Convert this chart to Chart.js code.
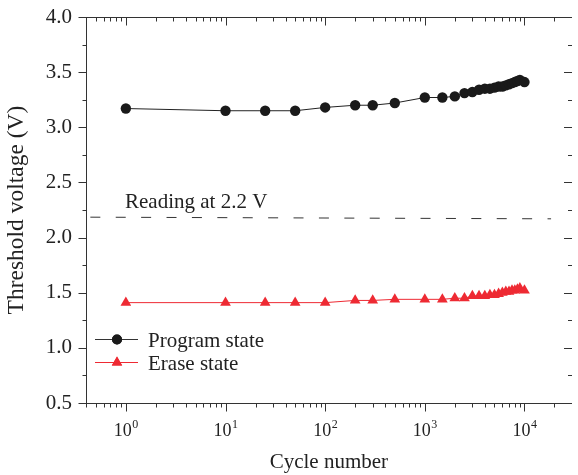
<!DOCTYPE html>
<html>
<head>
<meta charset="utf-8">
<script src="https://cdn.jsdelivr.net/npm/chart.js@4/dist/chart.umd.min.js"></script>
<style>
  html, body { margin: 0; padding: 0; background: #fff; }
  #wrap { width: 578px; height: 475px; }
</style>
</head>
<body>
<div id="wrap"><canvas id="c" width="578" height="475"></canvas></div>
<script>
// ---- data ----
const cycles = [1, 10, 25, 50, 100, 200, 300, 500, 1000, 1500, 2000, 2500, 3000, 3500, 4000, 4500, 5000, 5500, 6000, 6500, 7000, 7500, 8000, 8500, 9000, 10000];
const programV = [3.17, 3.15, 3.15, 3.15, 3.18, 3.20, 3.20, 3.22, 3.27, 3.27, 3.28, 3.31, 3.32, 3.34, 3.35, 3.35, 3.36, 3.37, 3.37, 3.38, 3.39, 3.40, 3.41, 3.42, 3.43, 3.41];
const eraseV   = [1.41, 1.41, 1.41, 1.41, 1.41, 1.43, 1.43, 1.44, 1.44, 1.44, 1.45, 1.45, 1.47, 1.47, 1.47, 1.48, 1.48, 1.49, 1.50, 1.51, 1.51, 1.52, 1.52, 1.53, 1.54, 1.52];
const readingX = [0.44, 18500];
const readingV = [2.185, 2.17];
const yTickValues = [0.5, 1.0, 1.5, 2.0, 2.5, 3.0, 3.5, 4.0];
const xDecades = [0, 1, 2, 3, 4];
const seriesNames = ['Program state', 'Erase state'];
const readingLabel = 'Reading at 2.2 V';
const xTitle = 'Cycle number';
const yTitle = 'Threshold voltage (V)';

const FONT = '"Liberation Serif", "Times New Roman", Times, serif';
const INK = '#222';
const RED = '#ee2a33';

const toXY = (xs, ys) => xs.map((v, i) => ({ x: v, y: ys[i] }));

const decoPlugin = {
  id: 'deco',
  afterDraw(chart) {
    const { ctx, chartArea: { left, right, top, bottom }, scales: { x, y } } = chart;
    ctx.save();
    ctx.strokeStyle = '#333';
    ctx.lineWidth = 1;
    const seg = (x1, y1, x2, y2) => { ctx.beginPath(); ctx.moveTo(x1, y1); ctx.lineTo(x2, y2); ctx.stroke(); };
    const T = Math.round(top) + 0.5;
    const B = Math.round(bottom) + 0.5;
    const L = Math.round(left) + 0.5;
    const R = Math.round(right);
    // top frame line
    seg(left, T, right, T);
    // x ticks (bottom outward, top inward)
    for (let d = -1; d <= 4; d++) {
      for (let m = 1; m <= 9; m++) {
        const v = m * Math.pow(10, d);
        if (v < x.min || v > x.max) continue;
        const px = Math.round(x.getPixelForValue(v)) + 0.5;
        const len = m === 1 ? 8 : 4;
        seg(px, B, px, B + len);
        seg(px, T, px, T + len);
      }
    }
    // y ticks (left outward, right inward)
    for (let v = 0.5; v <= 4.0001; v += 0.25) {
      const py = Math.round(y.getPixelForValue(v)) + 0.5;
      const major = Math.abs(v * 2 - Math.round(v * 2)) < 1e-6;
      const len = major ? 8 : 4;
      seg(L, py, L - len, py);
      seg(R, py, R - len, py);
    }
    // x tick labels 10^n
    ctx.fillStyle = INK;
    ctx.textBaseline = 'alphabetic';
    xDecades.forEach(n => {
      const px = x.getPixelForValue(Math.pow(10, n));
      ctx.font = '18px ' + FONT;
      const wBase = ctx.measureText('10').width;
      ctx.font = '12px ' + FONT;
      const wExp = ctx.measureText(String(n)).width;
      const x0 = px - (wBase + wExp) / 2;
      ctx.font = '18px ' + FONT;
      ctx.textAlign = 'left';
      ctx.fillText('10', x0, 436);
      ctx.font = '12px ' + FONT;
      ctx.fillText(String(n), x0 + wBase + 0.5, 428);
    });
    // reading annotation
    ctx.font = '21px ' + FONT;
    ctx.textAlign = 'left';
    ctx.fillText(readingLabel, 125, 208);
    // legend
    const items = [
      { name: seriesNames[0], color: '#333', fill: '#1a1a1a', style: 'circle', r: 5, y: 339 },
      { name: seriesNames[1], color: RED, fill: RED, style: 'triangle', r: 6, y: 362 }
    ];
    items.forEach(it => {
      ctx.strokeStyle = it.color;
      ctx.lineWidth = 1;
      seg(95, it.y + 0.5, 138, it.y + 0.5);
      ctx.fillStyle = it.fill;
      Chart.helpers.drawPoint(ctx, { pointStyle: it.style, radius: it.r, borderWidth: 0, rotation: 0 }, 117, it.y + 0.5);
      ctx.fill();
      ctx.fillStyle = INK;
      ctx.font = '21px ' + FONT;
      ctx.fillText(it.name, 148, it.y + 8);
    });
    ctx.restore();
  }
};

new Chart(document.getElementById('c'), {
  type: 'line',
  data: {
    datasets: [
      {
        label: 'reading',
        data: toXY(readingX, readingV),
        borderColor: '#333',
        borderWidth: 1,
        borderDash: [10, 15.4],
        pointRadius: 0,
        fill: false
      },
      {
        label: seriesNames[0],
        data: toXY(cycles, programV),
        borderColor: '#222',
        borderWidth: 1,
        backgroundColor: '#1a1a1a',
        pointBackgroundColor: '#1a1a1a',
        pointBorderWidth: 0,
        pointStyle: 'circle',
        pointRadius: 5.2,
        fill: false
      },
      {
        label: seriesNames[1],
        data: toXY(cycles, eraseV),
        borderColor: RED,
        borderWidth: 1,
        backgroundColor: RED,
        pointBackgroundColor: RED,
        pointBorderWidth: 0,
        pointStyle: 'triangle',
        pointRadius: 6.2,
        fill: false
      }
    ]
  },
  options: {
    responsive: false,
    animation: false,
    devicePixelRatio: 1,
    layout: { padding: { top: 17, right: 0, left: 0, bottom: 0 } },
    plugins: { legend: { display: false }, tooltip: { enabled: false } },
    scales: {
      x: {
        type: 'logarithmic',
        min: Math.pow(10, -0.4),
        max: Math.pow(10, 4.475),
        grid: { display: false, drawTicks: false },
        border: { display: true, color: '#333', width: 1 },
        ticks: { display: false },
        title: { display: true, text: xTitle, color: INK, font: { family: FONT, size: 21 }, padding: { top: 0, bottom: 0 } },
        afterFit(scale) { scale.height = 72; scale.paddingLeft = 0; scale.paddingRight = 0; }
      },
      y: {
        type: 'linear',
        min: 0.5,
        max: 4.0,
        grid: { display: false, drawTicks: false },
        border: { display: true, color: '#333', width: 1 },
        afterBuildTicks(scale) { scale.ticks = yTickValues.map(v => ({ value: v })); },
        ticks: {
          color: INK,
          font: { family: FONT, size: 21 },
          padding: 14,
          callback: v => Number(v).toFixed(1)
        },
        title: { display: true, text: yTitle, color: INK, font: { family: FONT, size: 23.5 }, padding: { top: 3, bottom: 0 } },
        afterFit(scale) { scale.width = 86; scale.paddingTop = 0; scale.paddingBottom = 0; }
      }
    }
  },
  plugins: [decoPlugin]
});
</script>
</body>
</html>
